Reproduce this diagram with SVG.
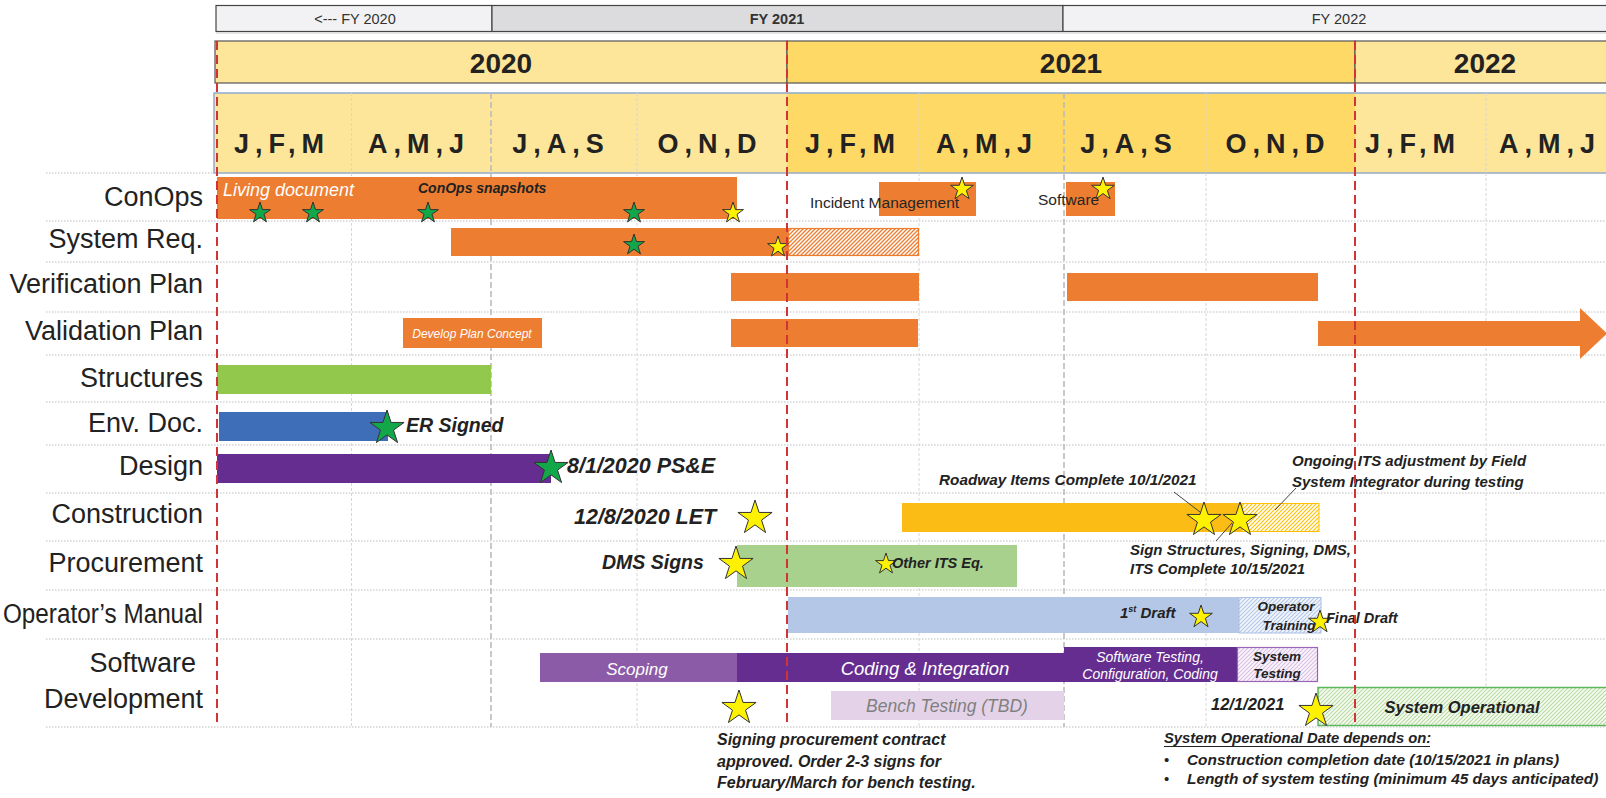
<svg xmlns="http://www.w3.org/2000/svg" width="1606" height="798" viewBox="0 0 1606 798">
<style>
text{font-family:"Liberation Sans",Arial,sans-serif}
.lbl{font-size:27px;fill:#222;text-anchor:end}
.ann{font-weight:bold;font-style:italic;fill:#222}
.wi{font-style:italic;fill:#fff}
.mon{font-size:27px;font-weight:bold;fill:#222;text-anchor:middle;letter-spacing:6px}
.yr{font-size:28px;font-weight:bold;fill:#222;text-anchor:middle}
.fy{font-size:14.5px;fill:#333;text-anchor:middle}
.row{stroke:#BDBDBD;stroke-width:1;stroke-dasharray:1.5 1.5}
.q{stroke:#D6D6D6;stroke-width:1;stroke-dasharray:3 2}
.fyl{stroke:#BBBBBB;stroke-width:1.6;stroke-dasharray:6 3}
.red{stroke:#D03434;stroke-width:2;stroke-dasharray:9 5}
.or{fill:#ED7D31}
.g{fill:#12A84A;stroke:#333;stroke-width:1}
.y{fill:#FFF200;stroke:#333;stroke-width:1}
.lead{stroke:#444;stroke-width:1;fill:none}
</style>
<defs>
<path id="sS" d="M0,-11 L2.47,-3.4 L10.46,-3.4 L3.99,1.3 L6.47,8.9 L0,4.2 L-6.47,8.9 L-3.99,1.3 L-10.46,-3.4 L-2.47,-3.4Z"/>
<path id="sM" d="M0,-12 L2.69,-3.71 L11.41,-3.71 L4.36,1.42 L7.06,9.71 L0,4.58 L-7.06,9.71 L-4.36,1.42 L-11.41,-3.71 L-2.69,-3.71Z"/>
<path id="sL" d="M0,-18 L4.04,-5.56 L17.12,-5.56 L6.53,2.12 L10.58,14.56 L0,6.88 L-10.58,14.56 L-6.53,2.12 L-17.12,-5.56 L-4.04,-5.56Z"/>
<pattern id="hO" patternUnits="userSpaceOnUse" width="4" height="4"><rect width="4" height="4" fill="#fff"/><path d="M-1,1 L1,-1 M0,4 L4,0 M3,5 L5,3" stroke="#ED7D31" stroke-width="1.3"/></pattern>
<pattern id="hG" patternUnits="userSpaceOnUse" width="4" height="4"><rect width="4" height="4" fill="#fff"/><path d="M-1,1 L1,-1 M0,4 L4,0 M3,5 L5,3" stroke="#FFC000" stroke-width="1.1"/></pattern>
<pattern id="hB" patternUnits="userSpaceOnUse" width="4" height="4"><rect width="4" height="4" fill="#F3F6FB"/><path d="M-1,1 L1,-1 M0,4 L4,0 M3,5 L5,3" stroke="#B4C7E7" stroke-width="1.1"/></pattern>
<pattern id="hP" patternUnits="userSpaceOnUse" width="4" height="4"><rect width="4" height="4" fill="#FBF6FC"/><path d="M-1,1 L1,-1 M0,4 L4,0 M3,5 L5,3" stroke="#D9BFE3" stroke-width="1.1"/></pattern>
<pattern id="hV" patternUnits="userSpaceOnUse" width="4" height="4"><rect width="4" height="4" fill="#F7FBF4"/><path d="M-1,1 L1,-1 M0,4 L4,0 M3,5 L5,3" stroke="#B7DBA0" stroke-width="1.1"/></pattern>
</defs>

<g id="header">
<rect x="216" y="5.5" width="276" height="26" fill="#F2F2F4" stroke="#444" stroke-width="1.2"/>
<rect x="492" y="5.5" width="571" height="26" fill="#DCDCDE" stroke="#444" stroke-width="1.2"/>
<rect x="1063" y="5.5" width="550" height="26" fill="#F2F2F4" stroke="#444" stroke-width="1.2"/>
<line x1="216" y1="33" x2="1606" y2="33" stroke="#D0D0D0" stroke-width="1"/>
<text class="fy" x="355" y="24">&lt;--- FY 2020</text>
<text class="fy" x="777" y="24" font-weight="bold" font-size="15px">FY 2021</text>
<text class="fy" x="1339" y="24">FY 2022</text>
<rect x="215" y="41" width="572" height="42" fill="#FDE699" stroke="#555" stroke-width="1.2"/>
<rect x="787" y="41" width="568" height="42" fill="#FFD966" stroke="#555" stroke-width="1.2"/>
<rect x="1355" y="41" width="260" height="42" fill="#FDE699" stroke="#555" stroke-width="1.2"/>
<text class="yr" x="501" y="73">2020</text>
<text class="yr" x="1071" y="73">2021</text>
<text class="yr" x="1485" y="73">2022</text>
<rect x="214" y="93" width="573" height="80" fill="#FDE699"/>
<rect x="787" y="93" width="568" height="80" fill="#FFD966"/>
<rect x="1355" y="93" width="260" height="80" fill="#FDE699"/>
<rect x="214" y="93" width="1400" height="80" fill="none" stroke="#8FAAD0" stroke-width="1.5"/>
</g>

<g id="grid">
<line class="row" x1="46" y1="173" x2="1606" y2="173"/>
<line class="row" x1="46" y1="221" x2="1606" y2="221"/>
<line class="row" x1="46" y1="262" x2="1606" y2="262"/>
<line class="row" x1="46" y1="312" x2="1606" y2="312"/>
<line class="row" x1="46" y1="355" x2="1606" y2="355"/>
<line class="row" x1="46" y1="402" x2="1606" y2="402"/>
<line class="row" x1="46" y1="445" x2="1606" y2="445"/>
<line class="row" x1="46" y1="493" x2="1606" y2="493"/>
<line class="row" x1="46" y1="541" x2="1606" y2="541"/>
<line class="row" x1="46" y1="590" x2="1606" y2="590"/>
<line class="row" x1="46" y1="639" x2="1606" y2="639"/>
<line class="row" x1="46" y1="727" x2="1606" y2="727"/>
<line class="q" x1="351.5" y1="93" x2="351.5" y2="727"/>
<line class="q" x1="637" y1="93" x2="637" y2="727"/>
<line class="q" x1="919" y1="93" x2="919" y2="727"/>
<line class="q" x1="1206" y1="93" x2="1206" y2="727"/>
<line class="q" x1="1486" y1="93" x2="1486" y2="727"/>
<line class="fyl" x1="491" y1="93" x2="491" y2="727"/>
<line class="fyl" x1="1064" y1="93" x2="1064" y2="727"/>
</g>

<g id="months">
<text class="mon" x="282" y="153">J,F,M</text>
<text class="mon" x="419" y="153">A,M,J</text>
<text class="mon" x="561" y="153">J,A,S</text>
<text class="mon" x="710" y="153">O,N,D</text>
<text class="mon" x="853" y="153">J,F,M</text>
<text class="mon" x="987" y="153">A,M,J</text>
<text class="mon" x="1129" y="153">J,A,S</text>
<text class="mon" x="1278" y="153">O,N,D</text>
<text class="mon" x="1413" y="153">J,F,M</text>
<text class="mon" x="1550" y="153">A,M,J</text>
</g>

<g id="labels">
<text class="lbl" x="203" y="206">ConOps</text>
<text class="lbl" x="203" y="248">System Req.</text>
<text class="lbl" x="203" y="293">Verification Plan</text>
<text class="lbl" x="203" y="340">Validation Plan</text>
<text class="lbl" x="203" y="387">Structures</text>
<text class="lbl" x="203" y="432">Env. Doc.</text>
<text class="lbl" x="203" y="475">Design</text>
<text class="lbl" x="203" y="523">Construction</text>
<text class="lbl" x="203" y="572">Procurement</text>
<text class="lbl" x="203" y="623" textLength="200" lengthAdjust="spacingAndGlyphs">Operator’s Manual</text>
<text class="lbl" x="196" y="672">Software</text>
<text class="lbl" x="203" y="708">Development</text>
</g>

<g id="conops">
<rect class="or" x="217" y="177" width="520" height="42"/>
<text class="wi" x="223" y="196" font-size="18px">Living document</text>
<text class="ann" x="418" y="193" font-size="14px">ConOps snapshots</text>
<use href="#sS" x="260" y="213" class="g"/>
<use href="#sS" x="313" y="213" class="g"/>
<use href="#sS" x="428" y="213" class="g"/>
<use href="#sS" x="634" y="213" class="g"/>
<use href="#sS" x="733" y="213" class="y"/>
<rect class="or" x="879" y="182" width="97" height="34"/>
<text x="810" y="208" font-size="15.5px" fill="#262626">Incident Management</text>
<use href="#sM" x="962" y="189" class="y"/>
<rect class="or" x="1066" y="182" width="49" height="34"/>
<text x="1038" y="205" font-size="15.5px" fill="#262626">Software</text>
<use href="#sM" x="1103" y="189" class="y"/>
</g>

<g id="sysreq">
<rect class="or" x="451" y="228" width="337" height="28"/>
<rect x="788.5" y="228.5" width="130" height="27" fill="url(#hO)" stroke="#ED7D31" stroke-width="1.2"/>
<use href="#sS" x="634" y="245" class="g"/>
<use href="#sS" x="778" y="247" class="y"/>
</g>

<g id="verification">
<rect class="or" x="731" y="273" width="188" height="28"/>
<rect class="or" x="1067" y="273" width="251" height="28"/>
</g>

<g id="validation">
<rect class="or" x="403" y="318" width="139" height="30"/>
<text class="wi" x="472" y="338" font-size="12px" text-anchor="middle">Develop Plan Concept</text>
<rect class="or" x="731" y="319" width="187" height="28"/>
<polygon class="or" points="1318,321 1580,321 1580,308 1607,333.5 1580,359 1580,346 1318,346"/>
</g>

<g id="structures">
<rect x="217" y="365" width="274" height="29" fill="#92C84B"/>
</g>

<g id="envdoc">
<rect x="219" y="412" width="169" height="29" fill="#3F6EB8"/>
<use href="#sL" x="387" y="428" class="g"/>
<text class="ann" x="406" y="432" font-size="19.5px">ER Signed</text>
</g>

<g id="design">
<rect x="217" y="454" width="334" height="29" fill="#662D91"/>
<use href="#sL" x="551" y="468" class="g"/>
<text class="ann" x="567" y="473" font-size="21.5px">8/1/2020 PS&amp;E</text>
</g>

<g id="construction">
<text class="ann" x="574" y="524" font-size="21.5px">12/8/2020 LET</text>
<use href="#sL" x="755" y="518" class="y"/>
<rect x="902" y="503" width="340" height="29" fill="#FBBC15"/>
<rect x="1242" y="503.5" width="77" height="28" fill="url(#hG)" stroke="#FFC000" stroke-width="1"/>
<use href="#sL" x="1204" y="520" class="y"/>
<use href="#sL" x="1240" y="520" class="y"/>
<text class="ann" x="939" y="485" font-size="15.3px">Roadway Items Complete 10/1/2021</text>
<text class="ann" x="1292" y="466" font-size="15px">Ongoing ITS adjustment by Field</text>
<text class="ann" x="1292" y="487" font-size="15px">System Integrator during testing</text>
<text class="ann" x="1130" y="555" font-size="15px">Sign Structures, Signing, DMS,</text>
<text class="ann" x="1130" y="574" font-size="15px">ITS Complete 10/15/2021</text>
</g>

<g id="procurement">
<rect x="737" y="545" width="280" height="42" fill="#A9D18E"/>
<text class="ann" x="602" y="569" font-size="19.5px">DMS Signs</text>
<use href="#sL" x="736" y="564" class="y"/>
<use href="#sS" x="886" y="564" class="y"/>
<text class="ann" x="892" y="568" font-size="14.5px">Other ITS Eq.</text>
</g>

<g id="operator">
<rect x="788" y="597" width="451" height="36" fill="#B4C7E7"/>
<rect x="1239" y="597.5" width="82" height="35.5" fill="url(#hB)" stroke="#A9C0E3" stroke-width="1"/>
<text class="ann" x="1120" y="618" font-size="15px">1<tspan font-size="9px" dy="-6">st</tspan><tspan dy="6"> Draft</tspan></text>
<use href="#sM" x="1201" y="617" class="y"/>
<text class="ann" x="1286" y="611" font-size="13.5px" text-anchor="middle">Operator</text>
<text class="ann" x="1289" y="630" font-size="13.5px" text-anchor="middle">Training</text>
<use href="#sM" x="1320" y="622" class="y"/>
<text class="ann" x="1326" y="623" font-size="14.5px">Final Draft</text>
</g>

<g id="software">
<rect x="540" y="653" width="197" height="29" fill="#8B5BA8"/>
<text class="wi" x="637" y="675" font-size="17px" text-anchor="middle">Scoping</text>
<rect x="737" y="653" width="327" height="29" fill="#662D91"/>
<text class="wi" x="925" y="675" font-size="18.5px" text-anchor="middle">Coding &amp; Integration</text>
<rect x="1064" y="647" width="173" height="35" fill="#662D91"/>
<text class="wi" x="1150" y="662" font-size="14px" text-anchor="middle">Software Testing,</text>
<text class="wi" x="1150" y="679" font-size="14px" text-anchor="middle">Configuration, Coding</text>
<rect x="1237.5" y="647.5" width="80" height="34" fill="url(#hP)" stroke="#9966B8" stroke-width="1.2"/>
<text class="ann" x="1277" y="661" font-size="13.5px" text-anchor="middle">System</text>
<text class="ann" x="1277" y="678" font-size="13.5px" text-anchor="middle">Testing</text>
<rect x="831" y="691" width="233" height="29" fill="#E4D3E8"/>
<text x="947" y="712" font-size="17.5px" font-style="italic" fill="#808080" text-anchor="middle">Bench Testing (TBD)</text>
<use href="#sL" x="739" y="708" class="y"/>
<text class="ann" x="717" y="745" font-size="16px">Signing procurement contract</text>
<text class="ann" x="717" y="767" font-size="16px">approved. Order 2-3 signs for</text>
<text class="ann" x="717" y="788" font-size="16px">February/March for bench testing.</text>
</g>

<g id="operational">
<rect x="1318" y="687.5" width="300" height="38" fill="url(#hV)" stroke="#5CB85C" stroke-width="1.5"/>
<text class="ann" x="1462" y="713" font-size="16.5px" text-anchor="middle">System Operational</text>
<text class="ann" x="1211" y="710" font-size="16.5px">12/1/2021</text>
<use href="#sL" x="1316" y="711" class="y"/>
</g>

<g id="notes">
<text class="ann" x="1164" y="743" font-size="14.8px">System Operational Date depends on:</text>
<line x1="1164" y1="746.5" x2="1430" y2="746.5" stroke="#222" stroke-width="1.2"/>
<text x="1164" y="765" font-size="15px" fill="#222">•</text>
<text class="ann" x="1187" y="765" font-size="15.4px">Construction completion date (10/15/2021 in plans)</text>
<text x="1164" y="784" font-size="15px" fill="#222">•</text>
<text class="ann" x="1187" y="784" font-size="15.4px">Length of system testing (minimum 45 days anticipated)</text>
</g>

<g id="redlines">
<line class="red" x1="217" y1="41" x2="217" y2="727"/>
<line class="red" x1="787" y1="41" x2="787" y2="727"/>
<line class="red" x1="1355" y1="41" x2="1355" y2="727"/>
</g>

<g id="connectors">
<line class="lead" x1="1174" y1="492" x2="1200" y2="512"/>
<line class="lead" x1="1296" y1="488" x2="1275" y2="510"/>
<line class="lead" x1="1232" y1="523" x2="1216" y2="541"/>
</g>
</svg>
